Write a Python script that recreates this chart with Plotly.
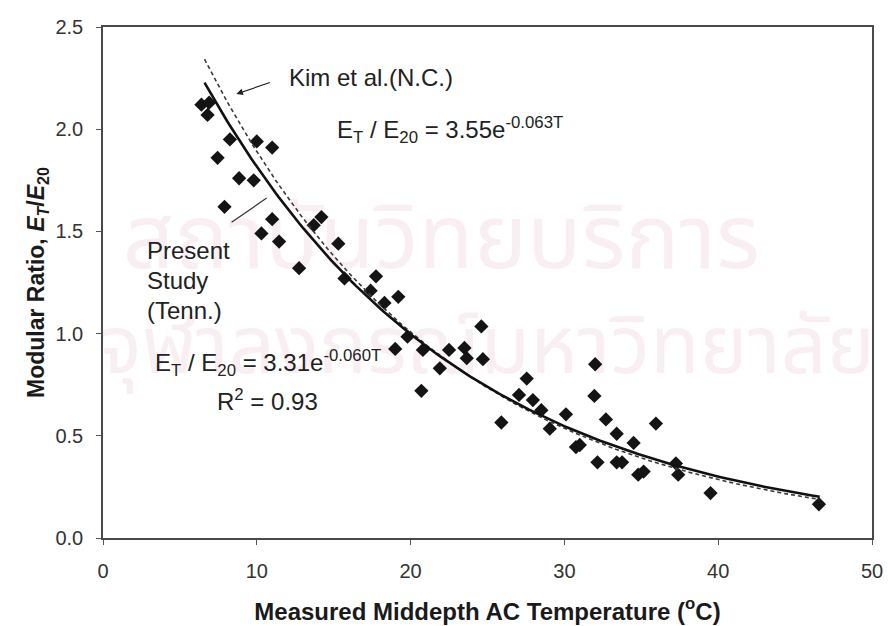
import numpy as np
import plotly.graph_objects as go

# Measured middepth AC temperature (deg C) and modular ratio E_T / E_20
temperature = [6.4, 6.9, 6.8, 8.25, 10.0, 11.0, 7.45, 8.85, 9.8, 7.9,
               11.0, 10.3, 11.45, 14.2, 13.7, 15.3, 12.75, 15.7, 17.75, 17.4,
               18.3, 19.2, 19.8, 19.0, 20.8, 20.7, 21.9, 22.5, 23.5, 23.65,
               24.6, 24.7, 25.9, 27.05, 27.55, 27.95, 28.5, 29.05, 30.1, 31.0,
               30.75, 32.0, 31.95, 32.15, 32.7, 33.4, 33.4, 33.75, 34.5, 34.8,
               35.15, 35.95, 37.25, 37.4, 39.5, 46.55]
modular_ratio = [2.12, 2.13, 2.07, 1.95, 1.94, 1.91, 1.86, 1.76, 1.75, 1.62,
                 1.56, 1.49, 1.45, 1.57, 1.53, 1.44, 1.32, 1.27, 1.28, 1.21,
                 1.15, 1.18, 0.985, 0.925, 0.92, 0.72, 0.83, 0.92, 0.93, 0.88,
                 1.035, 0.875, 0.565, 0.70, 0.78, 0.675, 0.625, 0.535, 0.605, 0.455,
                 0.445, 0.85, 0.695, 0.37, 0.58, 0.51, 0.37, 0.37, 0.465, 0.31,
                 0.325, 0.56, 0.365, 0.31, 0.22, 0.165]

# Exponential fits E_T/E_20 = a * exp(b * T)
present_a, present_b, present_r2 = 3.31, -0.060, 0.93   # Present study (Tenn.)
kim_a, kim_b = 3.55, -0.063                             # Kim et al. (N.C.)
fit_range = [6.6, 46.6]

x_ticks = [0, 10, 20, 30, 40, 50]
y_ticks = [0.0, 0.5, 1.0, 1.5, 2.0, 2.5]

# library watermark lines
watermark_lines = ["สถาบันวิทยบริการ", "จุฬาลงกรณ์มหาวิทยาลัย"]

FONT = "Liberation Sans, Arial, sans-serif"
THAI = "Noto Sans Thai, Noto Sans, sans-serif"
t_fit = np.linspace(fit_range[0], fit_range[1], 200)

fig = go.Figure()

# watermark drawn first so that the data sit on top of it
fig.add_trace(go.Scatter(
    x=[22.0, 24.95], y=[1.43, 0.905], mode="text", text=watermark_lines,
    textposition="middle center",
    textfont=dict(family=THAI, size=[90, 81], color="#f9eff3"),
    showlegend=False, hoverinfo="skip"))

fig.add_trace(go.Scatter(
    x=temperature, y=modular_ratio, mode="markers",
    marker=dict(symbol="diamond", size=11, color="#141414"),
    showlegend=False, hoverinfo="x+y"))

fig.add_trace(go.Scatter(
    x=t_fit, y=kim_a * np.exp(kim_b * t_fit), mode="lines",
    line=dict(color="#3a3a3a", width=1.6, dash="4px,3px"),
    showlegend=False))

fig.add_trace(go.Scatter(
    x=t_fit, y=present_a * np.exp(present_b * t_fit), mode="lines",
    line=dict(color="#111111", width=2.6),
    showlegend=False))

ann_font = dict(family=FONT, size=24, color="#222222")


def equation(a, b):
    return "E<sub>T</sub> / E<sub>20</sub> = %.2fe<sup>%.3fT</sup>" % (a, b)


annotations = [
    dict(text="Kim et al.(N.C.)", x=11.94, y=2.255, xanchor="left", yanchor="middle",
         showarrow=False, font=ann_font),
    dict(text="", x=8.67, y=2.172, ax=35, ay=-12, showarrow=True,
         arrowhead=2, arrowsize=1.1, arrowwidth=1.2, arrowcolor="#222222"),
    dict(text=equation(kim_a, kim_b),
         x=15.06, y=1.996, xanchor="left", yanchor="middle", showarrow=False, font=ann_font),
    dict(text="Present", x=2.7, y=1.408, xanchor="left", yanchor="middle",
         showarrow=False, font=ann_font),
    dict(text="Study", x=2.7, y=1.261, xanchor="left", yanchor="middle",
         showarrow=False, font=ann_font),
    dict(text="(Tenn.)", x=2.7, y=1.114, xanchor="left", yanchor="middle",
         showarrow=False, font=ann_font),
    dict(text=equation(present_a, present_b),
         x=3.22, y=0.855, xanchor="left", yanchor="middle", showarrow=False, font=ann_font),
    dict(text="R<sup>2</sup> = %.2f" % present_r2, x=7.25, y=0.673, xanchor="left",
         yanchor="middle", showarrow=False, font=ann_font),
]

# leader from the "Present Study" label to its curve
fig.add_shape(type="line", x0=8.36, y0=1.545, x1=10.64, y1=1.663,
              line=dict(color="#333333", width=1.2))

fig.update_layout(
    width=888, height=626,
    margin=dict(l=103, r=16, t=27, b=88, autoexpand=False),
    paper_bgcolor="white", plot_bgcolor="white",
    font=dict(family=FONT, color="#222222"),
    annotations=annotations,
)

fig.update_xaxes(
    range=[0, 50], tickvals=x_ticks, ticktext=[str(v) for v in x_ticks],
    showgrid=False, zeroline=False, automargin=False,
    showline=True, linecolor="#4a4a4a", linewidth=1.5, mirror=True,
    ticks="outside", ticklen=5, tickcolor="#555555",
    tickfont=dict(family=FONT, size=20, color="#333333"), ticklabelstandoff=9,
    title=dict(text="<b>Measured Middepth AC Temperature (<sup>o</sup>C)</b>",
               font=dict(family=FONT, size=24, color="#1a1a1a"), standoff=22),
)
fig.update_yaxes(
    range=[0, 2.5], tickvals=y_ticks, ticktext=["%.1f" % v for v in y_ticks],
    showgrid=False, zeroline=False, automargin=False,
    showline=True, linecolor="#4a4a4a", linewidth=1.5, mirror=True,
    ticks="outside", ticklen=5, tickcolor="#555555",
    tickfont=dict(family=FONT, size=20, color="#333333"), ticklabelstandoff=9,
    title=dict(text="<b>Modular Ratio, <i>E<sub>T</sub></i>/<i>E</i><sub>20</sub></b>",
               font=dict(family=FONT, size=23, color="#1a1a1a"), standoff=4),
)

fig.write_html("out.html")
